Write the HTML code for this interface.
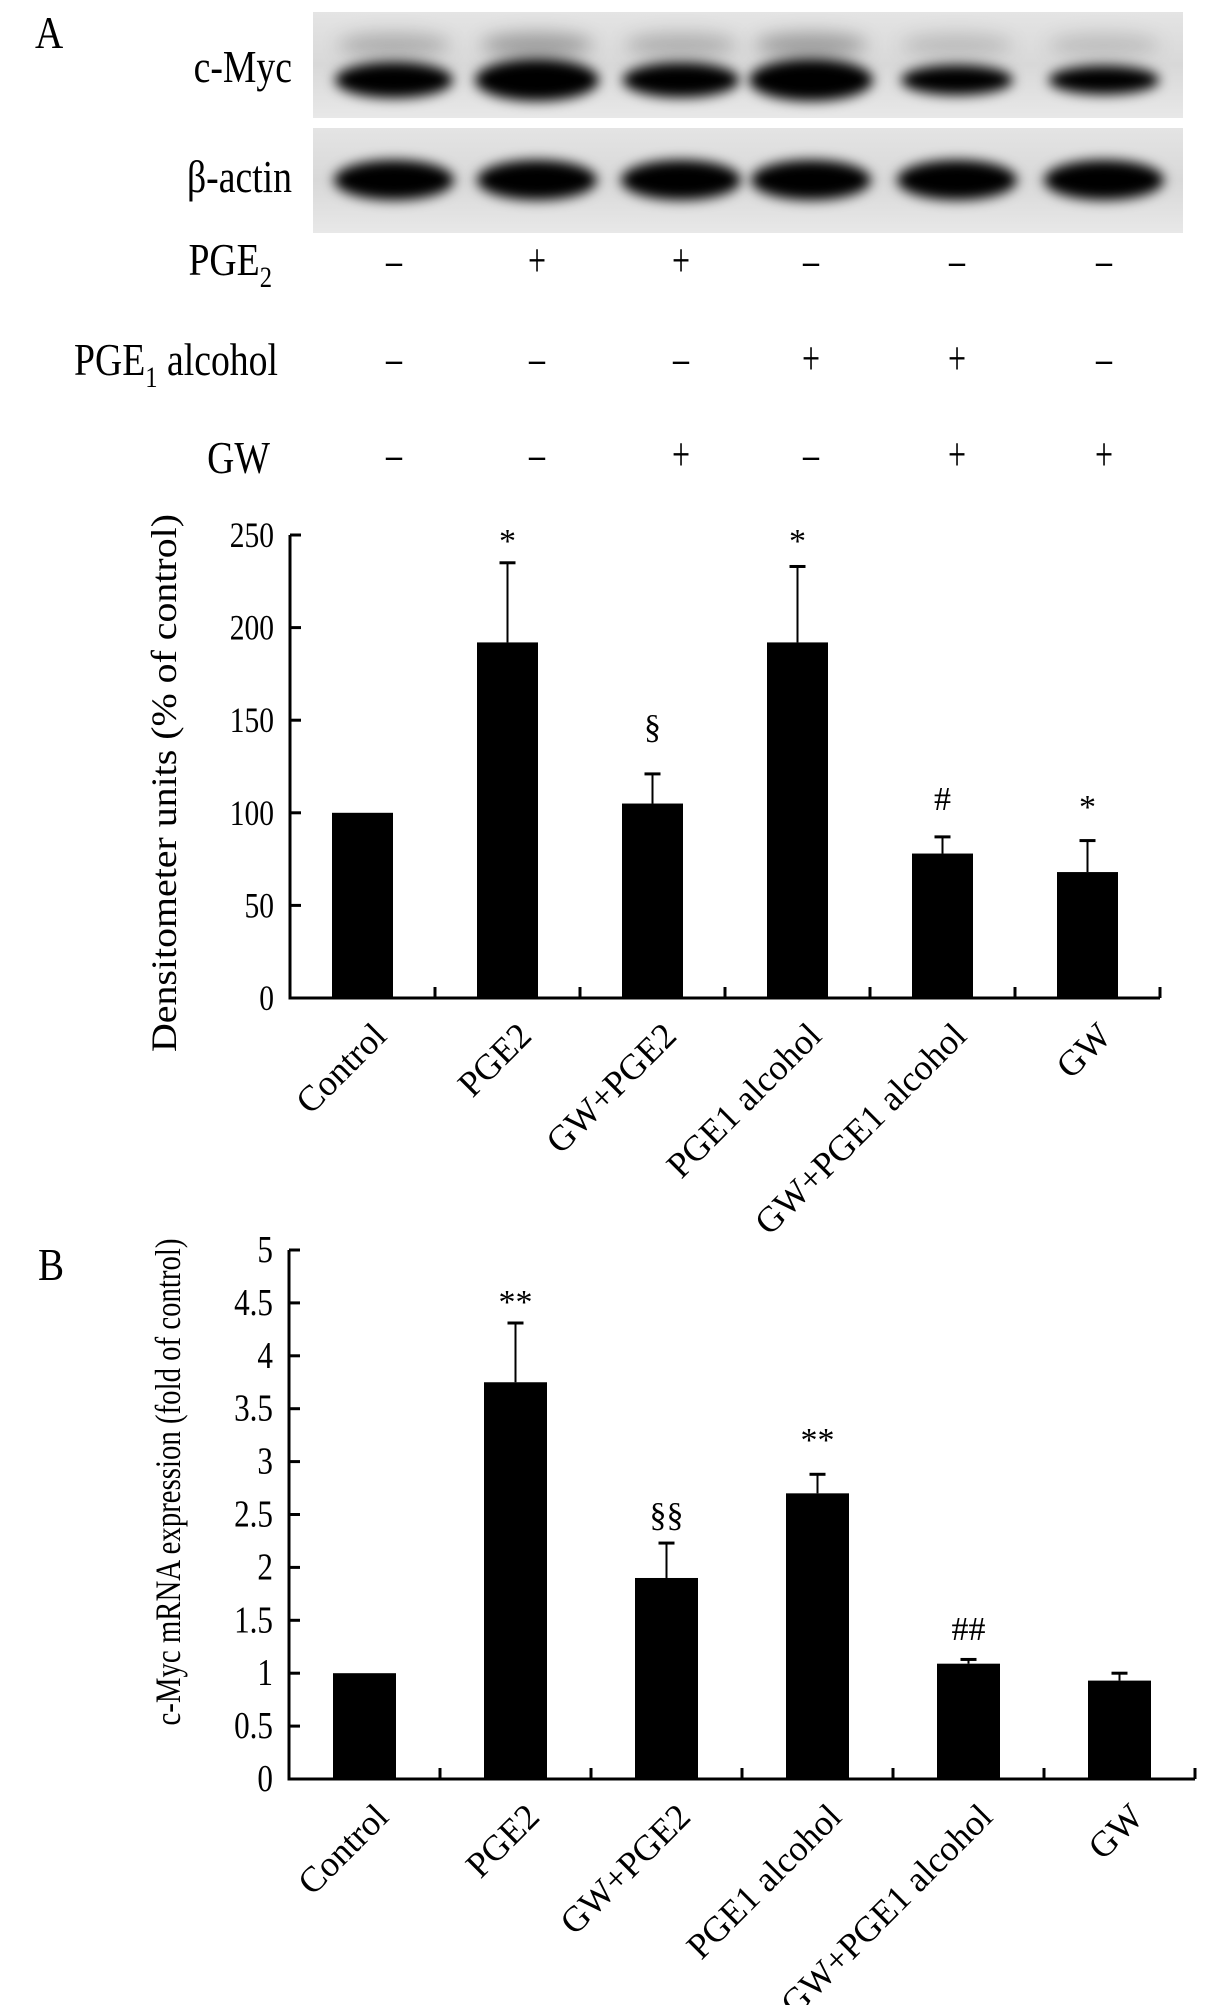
<!DOCTYPE html>
<html><head><meta charset="utf-8"><style>
html,body{margin:0;padding:0;background:#fff}
svg{display:block}
text{font-family:"Liberation Serif",serif;fill:#000}
</style></head><body>
<svg id="fig" width="1205" height="2005" viewBox="0 0 1205 2005" xmlns="http://www.w3.org/2000/svg">
<defs>
<filter id="blur6" x="-30%" y="-80%" width="160%" height="260%"><feGaussianBlur stdDeviation="6"/></filter>
<filter id="blur10" x="-30%" y="-100%" width="160%" height="300%"><feGaussianBlur stdDeviation="9"/></filter>
<linearGradient id="bg1" x1="0" y1="0" x2="0" y2="1"><stop offset="0" stop-color="#e4e4e4"/><stop offset="0.5" stop-color="#d8d8d8"/><stop offset="1" stop-color="#e8e8e8"/></linearGradient>
<clipPath id="c1"><rect x="313" y="12" width="870" height="106"/></clipPath>
<clipPath id="c2"><rect x="313" y="128" width="870" height="105"/></clipPath>
</defs>
<text transform="translate(35,48) scale(0.85,1)" font-size="46">A</text>
<g id="blots">
<rect x="313" y="12" width="870" height="106" fill="url(#bg1)"/>
<rect x="313" y="128" width="870" height="105" fill="url(#bg1)"/>
<g id="mycBands" clip-path="url(#c1)"></g>
<g id="actBands" clip-path="url(#c2)"></g>
</g>
<text transform="translate(292,82) scale(0.82,1)" font-size="46" text-anchor="end">c-Myc</text>
<text transform="translate(292,192) scale(0.82,1)" font-size="46" text-anchor="end">β-actin</text>
<text transform="translate(272,275) scale(0.82,1)" font-size="46" text-anchor="end">PGE<tspan font-size="30" dy="12">2</tspan></text>
<text transform="translate(278,375) scale(0.82,1)" font-size="46" text-anchor="end">PGE<tspan font-size="30" dy="12">1</tspan><tspan dy="-12"> alcohol</tspan></text>
<text transform="translate(270,473) scale(0.82,1)" font-size="46" text-anchor="end">GW</text>
<g id="signs"></g>
<g id="chartA"></g>
<text transform="translate(38,1280) scale(0.85,1)" font-size="46">B</text>
<g id="chartB"></g>
</svg>
<script>
const NS="http://www.w3.org/2000/svg";
const categories=["Control","PGE2","GW+PGE2","PGE1 alcohol","GW+PGE1 alcohol","GW"];
const aValues=[100,192,105,192,78,68];
const aErrors=[0,43,16,41,9,17];
const aMarks=["","*","§","*","#","*"];
const aTicks=[0,50,100,150,200,250];
const bValues=[1,3.75,1.9,2.7,1.09,0.93];
const bErrors=[0,0.56,0.33,0.18,0.04,0.07];
const bMarks=["","**","§§","**","##",""];
const bTicks=[0,0.5,1,1.5,2,2.5,3,3.5,4,4.5,5];
const pge2Row=["–","+","+","–","–","–"];
const pge1Row=["–","–","–","+","+","–"];
const gwRow=["–","–","+","–","+","+"];
const mycIntensity=[0.75,1,0.7,1,0.5,0.45];
function el(tag,attrs,parent){const e=document.createElementNS(NS,tag);for(const k in attrs)e.setAttribute(k,attrs[k]);parent.appendChild(e);return e;}
const lanesX=[394,537,681,811,957,1104];
const mg=document.getElementById('mycBands'),ag=document.getElementById('actBands');
lanesX.forEach((cx,i)=>{
  const s=mycIntensity[i];
  let e=el('ellipse',{cx:cx,cy:45,rx:56,ry:12,fill:'#000','fill-opacity':(0.3*s).toFixed(2),filter:'url(#blur10)'},mg);
  
  
  e=el('ellipse',{cx:cx,cy:80,rx:50+12*s,ry:9+12*s,fill:'#000',filter:'url(#blur6)'},mg);
  
  
  e=el('ellipse',{cx:cx,cy:180,rx:60,ry:20,fill:'#000',filter:'url(#blur6)'},ag);
  
  
});
const sg=document.getElementById('signs');
[[pge2Row,262],[pge1Row,360],[gwRow,456]].forEach(([row,y])=>{
  row.forEach((s,i)=>{
    const t=el('text',{transform:`translate(${lanesX[i]},${y+14}) scale(0.8,1.2)`,'font-size':40,'text-anchor':'middle'},sg);
    t.textContent=s;
    
    
  });
});
function drawChart(g,o){
  const yS=v=>o.y0-(v-o.min)/(o.max-o.min)*(o.y0-o.yTop);
  const band=(o.xEnd-o.x0)/categories.length;
  const xC=i=>o.x0+band*(i+0.5);
  let a=el('line',{x1:o.x0,y1:o.yTop,x2:o.x0,y2:o.y0+1.5,stroke:'#000','stroke-width':3},g);
  
  a=el('line',{x1:o.x0-1.5,y1:o.y0,x2:o.xEnd,y2:o.y0,stroke:'#000','stroke-width':3},g);
  
  o.ticks.forEach(t=>{
    const y=yS(t);
    const l=el('line',{x1:o.x0,y1:y,x2:o.x0+11,y2:y,stroke:'#000','stroke-width':3},g);
    
    const tx=el('text',{transform:`translate(${o.x0-16},${y+12}) scale(0.82,1)`,'font-size':o.tickFont,'text-anchor':'end'},g);
    tx.textContent=String(t);
    
  });
  for(let i=1;i<=categories.length;i++){
    const x=o.x0+band*i;
    const l=el('line',{x1:x,y1:o.y0,x2:x,y2:o.y0-11,stroke:'#000','stroke-width':3},g);
    
  }
  categories.forEach((c,i)=>{
    const cx=xC(i),v=o.values[i],top=yS(v);
    const r=el('rect',{x:cx-o.bw/2,y:top,width:o.bw,height:o.y0-top,fill:'#000'},g);
    
    
    if(o.errors[i]>0){
      const et=yS(v+o.errors[i]);
      const e1=el('line',{x1:cx,y1:top,x2:cx,y2:et,stroke:'#000','stroke-width':2},g);
      
      const e2=el('line',{x1:cx-8,y1:et,x2:cx+8,y2:et,stroke:'#000','stroke-width':3},g);
      
    }
    if(o.marks[i]){
      const m=el('text',{x:cx,y:o.markY[i],'font-size':34,'text-anchor':'middle'},g);
      m.textContent=o.marks[i];
      
    }
    const lx=cx+8,ly=o.y0+22;
    const t=el('text',{x:lx,y:ly,'font-size':o.labFont,'text-anchor':'end',transform:`rotate(-45 ${lx} ${ly})`,dy:'0.7em'},g);
    t.textContent=c;
    
  });
  const yt=el('text',{x:o.titleX,y:o.titleY,'font-size':o.titleFont,'text-anchor':'middle',transform:`rotate(-90 ${o.titleX} ${o.titleY})`,textLength:o.titleLen,lengthAdjust:'spacingAndGlyphs'},g);
  yt.textContent=o.title;
  
}
drawChart(document.getElementById('chartA'),{x0:290,xEnd:1160,y0:998,yTop:535,min:0,max:250,values:aValues,errors:aErrors,marks:aMarks,
  markY:[0,552,738,552,810,818],ticks:aTicks,bw:61,tickFont:36,labFont:36,title:'Densitometer units (% of control)',titleX:176,titleY:783,titleFont:36,titleLen:538});
drawChart(document.getElementById('chartB'),{x0:289,xEnd:1195,y0:1779,yTop:1250,min:0,max:5,values:bValues,errors:bErrors,marks:bMarks,
  markY:[0,1313,1526,1451,1640,0],ticks:bTicks,bw:63,tickFont:38,labFont:36,title:'c-Myc mRNA expression (fold of control)',titleX:180,titleY:1482,titleFont:36,titleLen:487});
</script>
</body></html>
